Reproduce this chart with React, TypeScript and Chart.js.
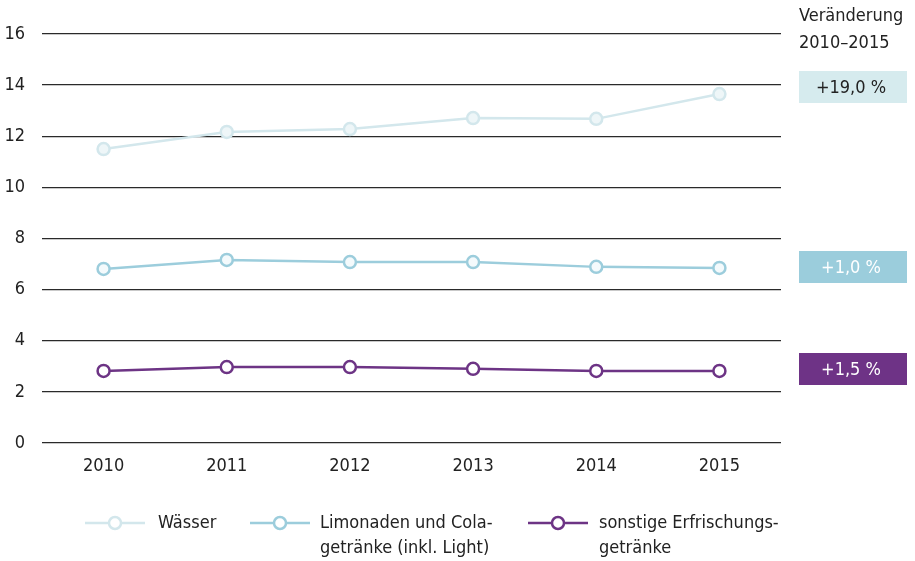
import React, { useEffect, useRef } from "react";
import { Chart, registerables } from "chart.js";

Chart.register(...registerables);

const years = ["2010", "2011", "2012", "2013", "2014", "2015"];
const waesser = [11.5, 12.17, 12.28, 12.71, 12.68, 13.65];
const limonaden = [6.81, 7.16, 7.08, 7.08, 6.89, 6.85];
const sonstige = [2.82, 2.97, 2.97, 2.9, 2.82, 2.82];
const seriesNames = [["Wässer"], ["Limonaden und Cola-", "getränke (inkl. Light)"], ["sonstige Erfrischungs-", "getränke"]];
const changeLabels = ["+19,0 %", "+1,0 %", "+1,5 %"];
const headerLines = ["Veränderung", "2010–2015"];

const FONT = '"DejaVu Sans Condensed", "Liberation Sans Narrow", sans-serif';
const colors = ["#d3e7ec", "#9ccddc", "#6d3485"];
const badgeColors = ["#d6ebee", "#9bcddc", "#6e3386"];
const badgeText = ["#222222", "#ffffff", "#ffffff"];

const overlayPlugin = {
  id: "overlay",
  afterDraw(chart: any) {
    const ctx = chart.ctx;
    ctx.save();
    ctx.font = `18px ${FONT}`;
    ctx.fillStyle = "#222";
    ctx.textBaseline = "middle";
    ctx.textAlign = "left";
    ctx.fillText(headerLines[0], 799, 16);
    ctx.fillText(headerLines[1], 799, 43);
    // badges
    const badgeTops = [71, 251, 353];
    changeLabels.forEach((t, i) => {
      const top = badgeTops[i];
      ctx.fillStyle = badgeColors[i];
      ctx.fillRect(799, top, 108, 32);
      ctx.fillStyle = badgeText[i];
      ctx.textAlign = "center";
      ctx.fillText(t, 851, top + 17);
    });
    // legend
    const legendX = [85, 250, 528];
    const textX = [158, 320, 599];
    ctx.textAlign = "left";
    seriesNames.forEach((lines, i) => {
      const x0 = legendX[i];
      ctx.strokeStyle = colors[i];
      ctx.lineWidth = 2.5;
      ctx.beginPath();
      ctx.moveTo(x0, 523);
      ctx.lineTo(x0 + 60, 523);
      ctx.stroke();
      ctx.beginPath();
      ctx.arc(x0 + 30, 523, 6, 0, Math.PI * 2);
      ctx.fillStyle = "#ffffff";
      ctx.fill();
      ctx.stroke();
      ctx.fillStyle = "#222";
      lines.forEach((l, j) => ctx.fillText(l, textX[i], 523 + j * 25));
    });
    ctx.restore();
  },
};

export default function App() {
  const ref = useRef<HTMLCanvasElement>(null);
  useEffect(() => {
    const mk = (data: number[], i: number, fill: string) => ({
      data,
      borderColor: colors[i],
      backgroundColor: colors[i],
      borderWidth: 2.5,
      pointRadius: 6,
      pointBorderWidth: 2.5,
      pointBackgroundColor: fill,
      pointBorderColor: colors[i],
      tension: 0,
    });
    const chart = new Chart(ref.current!, {
      type: "line",
      data: {
        labels: years,
        datasets: [mk(waesser, 0, "#eef6f8"), mk(limonaden, 1, "#f4fafc"), mk(sonstige, 2, "#ffffff")],
      },
      options: {
        animation: false,
        responsive: false,
        layout: { padding: { top: 34, right: 134, left: 0, bottom: 0 } },
        plugins: { legend: { display: false }, tooltip: { enabled: false } },
        scales: {
          x: {
            offset: true,
            grid: { display: false, drawTicks: false },
            border: { display: false },
            ticks: { color: "#222", font: { family: FONT, size: 18 }, padding: 13 },
            afterFit: (s: any) => { s.height = 118; },
          },
          y: {
            min: 0,
            max: 16,
            ticks: { stepSize: 2, color: "#222", font: { family: FONT, size: 18 }, padding: 17 },
            grid: { color: "#2a2a2a", lineWidth: 1.3, drawTicks: false },
            border: { display: false },
            afterFit: (s: any) => { s.width = 42; },
          },
        },
      },
      plugins: [overlayPlugin],
    });
    return () => chart.destroy();
  }, []);
  return (
    <div style={{ position: "fixed", left: 0, top: 0, width: 915, height: 561, background: "#fff" }}>
      <canvas ref={ref} width={915} height={561} style={{ width: 915, height: 561 }} />
    </div>
  );
}
